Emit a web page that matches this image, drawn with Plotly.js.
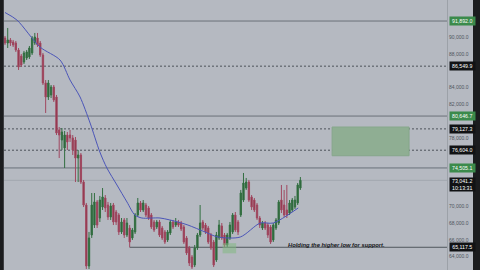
<!DOCTYPE html>
<html>
<head>
<meta charset="utf-8">
<script src="https://cdn.plot.ly/plotly-3.0.1.min.js"></script>
<style>
  html, body { margin: 0; padding: 0; background: #b5b9c1; overflow: hidden; }
  #chart { width: 480px; height: 270px; }
</style>
</head>
<body>
<div id="chart"></div>
<script>
// Hourly candles, oldest first
const opens = [
  89880, 89290, 89650, 89410, 89290, 88460, 87750, 87040, 87520, 87640,
  88110, 89290, 89880, 89290, 87870, 84560, 82900, 83140, 84080, 82900,
  79000, 77810, 76870, 78400, 78400, 78050, 77810, 75680, 76040, 72840,
  70120, 62900, 66570, 67750, 70480, 68580, 69880, 70950, 70120, 68700,
  70120, 69290, 68940, 66930, 68350, 66570, 67400, 66220, 66930, 68940,
  70360, 69530, 70120, 69770, 68940, 68110, 67520, 68110, 67400, 66930,
  65980, 66810, 68110, 67750, 68110, 67990, 67520, 66220, 65030, 63970,
  63020, 65030, 66570, 68110, 67750, 67400, 66570, 65740, 63610, 66220,
  67640, 66570, 65390, 66220, 66930, 68940, 68110, 68940, 70710, 72130,
  72840, 71070, 70710, 70120, 68580, 67400, 67990, 67750, 67520, 65980,
  67400, 67990, 70710, 70120, 69530, 69170, 69530, 69880, 70360, 72130
];
const highs = [
  90120, 91070, 89880, 89650, 89530, 88700, 87990, 88350, 88460, 88940,
  90120, 90480, 90480, 89530, 88110, 84910, 84910, 84320, 84320, 83140,
  79350, 79230, 78880, 78760, 79000, 78400, 78170, 76630, 76270, 73080,
  70360, 66930, 71540, 71540, 70710, 71190, 72130, 71300, 70480, 70360,
  70360, 69530, 69170, 68580, 68580, 68580, 67750, 67400, 69170, 70950,
  70590, 70710, 70360, 70000, 69170, 68350, 68350, 68350, 67640, 67160,
  67160, 68350, 68350, 68580, 68350, 68230, 67750, 66450, 65270, 64200,
  65390, 66810, 70120, 68350, 67990, 67640, 66810, 65980, 66930, 68350,
  67990, 66810, 66810, 68110, 69170, 69290, 68350, 71900, 73910, 73320,
  73080, 71300, 70950, 70360, 68820, 68230, 68230, 67990, 67750, 67990,
  68580, 70710, 72490, 71900, 72490, 70710, 70950, 71190, 72720, 73430
];
const lows = [
  89060, 88700, 88940, 88820, 88230, 86100, 86450, 86810, 87280, 87400,
  87870, 89060, 88820, 87640, 84320, 81010, 82550, 82780, 82310, 78400,
  75680, 76630, 74500, 76630, 77580, 76040, 72840, 72840, 72610, 69880,
  62550, 62550, 66220, 67400, 67400, 68110, 69530, 69290, 68350, 68350,
  67750, 67750, 66570, 66690, 66220, 66330, 65117.5, 65980, 66690, 68700,
  69290, 69290, 68700, 68350, 67280, 66930, 67280, 66330, 65980, 65510,
  65740, 66570, 67280, 67520, 67520, 67040, 65510, 64200, 62900, 62550,
  62780, 64800, 66330, 67160, 66690, 65510, 64800, 62780, 63380, 65980,
  65980, 65150, 65150, 65980, 66690, 66930, 66570, 68700, 70480, 71900,
  70480, 69530, 69290, 68350, 67400, 67160, 67160, 66220, 65510, 65740,
  67160, 67750, 69170, 68700, 68580, 68940, 69290, 69650, 70120, 71900
];
const closes = [
  89290, 89650, 89290, 89060, 88460, 86450, 86690, 88110, 88230, 88700,
  89880, 90000, 89060, 87870, 84560, 82900, 84560, 84080, 82550, 78640,
  78400, 78760, 78400, 77580, 78050, 76630, 75680, 76040, 72840, 70120,
  62900, 66220, 70120, 70480, 67750, 70710, 71070, 69770, 68700, 70000,
  68110, 68110, 66930, 68110, 66570, 67990, 65740, 67160, 68940, 70360,
  69530, 70360, 68940, 68580, 67520, 67160, 68110, 66570, 66220, 65740,
  66930, 68110, 67520, 68110, 67750, 67280, 65740, 64440, 63260, 62780,
  65030, 66570, 67990, 67400, 66930, 65740, 65030, 63020, 66570, 67750,
  66220, 65390, 66570, 67750, 68940, 67160, 66930, 71540, 72720, 72840,
  70710, 69880, 69530, 68580, 67750, 67990, 67400, 66570, 65740, 67750,
  68350, 70480, 69530, 68940, 68940, 70360, 70710, 70710, 72490, 73041.2
];

// Moving average, sampled at bar positions
const maBar = [0, 4.4, 12.9, 20.3, 24, 27.7, 31.4, 35, 37.6, 41.3, 45, 47.9, 50.5, 57.2, 63.8, 67.5, 73.8, 78.6, 86.8, 94.2, 99, 108.2];
const maValue = [92900, 92010, 88820, 87280, 84910, 82900, 79820, 76390, 74500, 72490, 70480, 68940, 68580, 68580, 68110, 67750, 66930, 66330, 66330, 67990, 67990, 69770];

// Price scale labels left uncovered by the level badges
const axisTicks = [94000, 90000, 88000, 84000, 82000, 78000, 70000, 68000, 66000, 64000];

// Marked price levels
const levelPrices = [91892.0, 86549.9, 80646.7, 79127.3, 76604.0, 74505.1, 73041.2, 65117.5];
const countdown = '10:13:31';
const zoneTop = 79350;
const zoneBottom = 75950;
const noteText = 'Holding the higher low for support.';

const bars = opens.map((_, i) => i);

const levelStyle = [
  { dash: 'solid', color: '#6a7179', badge: '#3b8a4b', from: null },
  { dash: '2px,2px', color: '#4d535a', badge: '#111214', from: null },
  { dash: 'solid', color: '#6a7179', badge: '#3b8a4b', from: null },
  { dash: '2px,2px', color: '#4d535a', badge: '#111214', from: null },
  { dash: '2px,2px', color: '#4d535a', badge: '#111214', from: null },
  { dash: 'solid', color: '#6a7179', badge: '#3b8a4b', from: null },
  { dash: 'solid', color: '#a2a7ae', badge: '#111214', from: null },
  { dash: 'solid', color: '#50565d', badge: '#111214', from: 46 }
];

const fmt = v => v.toLocaleString('en-US', { minimumFractionDigits: 1, maximumFractionDigits: 1 });

const shapes = [];
// trade zone box
shapes.push({
  type: 'rect', xref: 'x', yref: 'y', x0: 120.7, x1: 149.1, y0: zoneBottom, y1: zoneTop,
  fillcolor: '#8fae93', line: { color: '#86a78b', width: 1 }, layer: 'below'
});
// highlighted pivot area
shapes.push({
  type: 'rect', xref: 'x', yref: 'y', x0: 80.3, x1: 85.3, y0: 64400, y1: 65600,
  fillcolor: 'rgba(130,185,130,0.55)', line: { width: 0 }, layer: 'above'
});
levelPrices.forEach((p, i) => {
  const st = levelStyle[i];
  if (st.from === null) {
    shapes.push({ type: 'line', xref: 'paper', yref: 'y', x0: 0, x1: 1, y0: p, y1: p,
      line: { color: st.color, width: 1, dash: st.dash }, layer: 'below' });
  } else {
    shapes.push({ type: 'line', xref: 'x', yref: 'y', x0: st.from, x1: 170, y0: p, y1: p,
      line: { color: st.color, width: 1, dash: st.dash }, layer: 'below' });
  }
});
// window frame strips
shapes.push({ type: 'rect', xref: 'paper', yref: 'paper', x0: -0.0095, x1: -0.0005, y0: 0, y1: 1,
  fillcolor: '#1b1c1e', line: { width: 0 } });
shapes.push({ type: 'rect', xref: 'paper', yref: 'paper', x0: 1.0587, x1: 1.08, y0: 0, y1: 1,
  fillcolor: '#1b1c1e', line: { width: 0 } });

const annotations = levelPrices.map((p, i) => {
  const isLast = i === 6;
  return {
    xref: 'paper', yref: 'y', x: 1.0035, y: p, xanchor: 'left',
    yanchor: isLast ? 'top' : 'middle', yshift: isLast ? 3.5 : 0,
    text: isLast ? fmt(p) + '<br>' + countdown : fmt(p),
    showarrow: false, bgcolor: levelStyle[i].badge,
    width: 24.5, height: isLast ? 13 : 7.5, borderpad: 0, align: 'center',
    font: { family: 'Liberation Sans, Arial, sans-serif', size: 5.2, color: '#ffffff' }
  };
});
annotations.push({
  xref: 'x', yref: 'y', x: 122.4, y: 65420, xanchor: 'center', yanchor: 'middle',
  text: '<b><i>' + noteText + '</i></b>', showarrow: false,
  font: { family: 'Liberation Sans, Arial, sans-serif', size: 5.8, color: '#15171a' }
});

const data = [
  {
    type: 'candlestick', x: bars, open: opens, high: highs, low: lows, close: closes,
    increasing: { line: { color: '#326f40', width: 1 }, fillcolor: '#2b6137' },
    decreasing: { line: { color: '#a04860', width: 1 }, fillcolor: '#8a2a40' },
    whiskerwidth: 0, hoverinfo: 'skip', showlegend: false
  },
  {
    type: 'scatter', mode: 'lines', x: maBar, y: maValue,
    line: { color: '#4b55b8', width: 1, shape: 'spline', smoothing: 0.8 },
    hoverinfo: 'skip', showlegend: false
  }
];

const layout = {
  width: 480, height: 270,
  margin: { l: 4, r: 33, t: 0, b: 0, pad: 0 },
  paper_bgcolor: '#b5b9c1', plot_bgcolor: '#b5b9c1',
  showlegend: false,
  xaxis: {
    range: [-0.37, 163.1], visible: false, showgrid: false, zeroline: false,
    rangeslider: { visible: false }, fixedrange: true
  },
  yaxis: {
    side: 'right', range: [62428, 94380], tickmode: 'array', tickvals: axisTicks,
    ticktext: axisTicks.map(fmt),
    showgrid: false, zeroline: false, ticks: '', showline: true, linecolor: '#9ca1a8', linewidth: 1,
    tickfont: { family: 'Liberation Sans, Arial, sans-serif', size: 5, color: '#4f545b' },
    automargin: false, fixedrange: true
  },
  shapes: shapes,
  annotations: annotations
};

Plotly.newPlot('chart', data, layout, { staticPlot: true, displayModeBar: false });
</script>
</body>
</html>
